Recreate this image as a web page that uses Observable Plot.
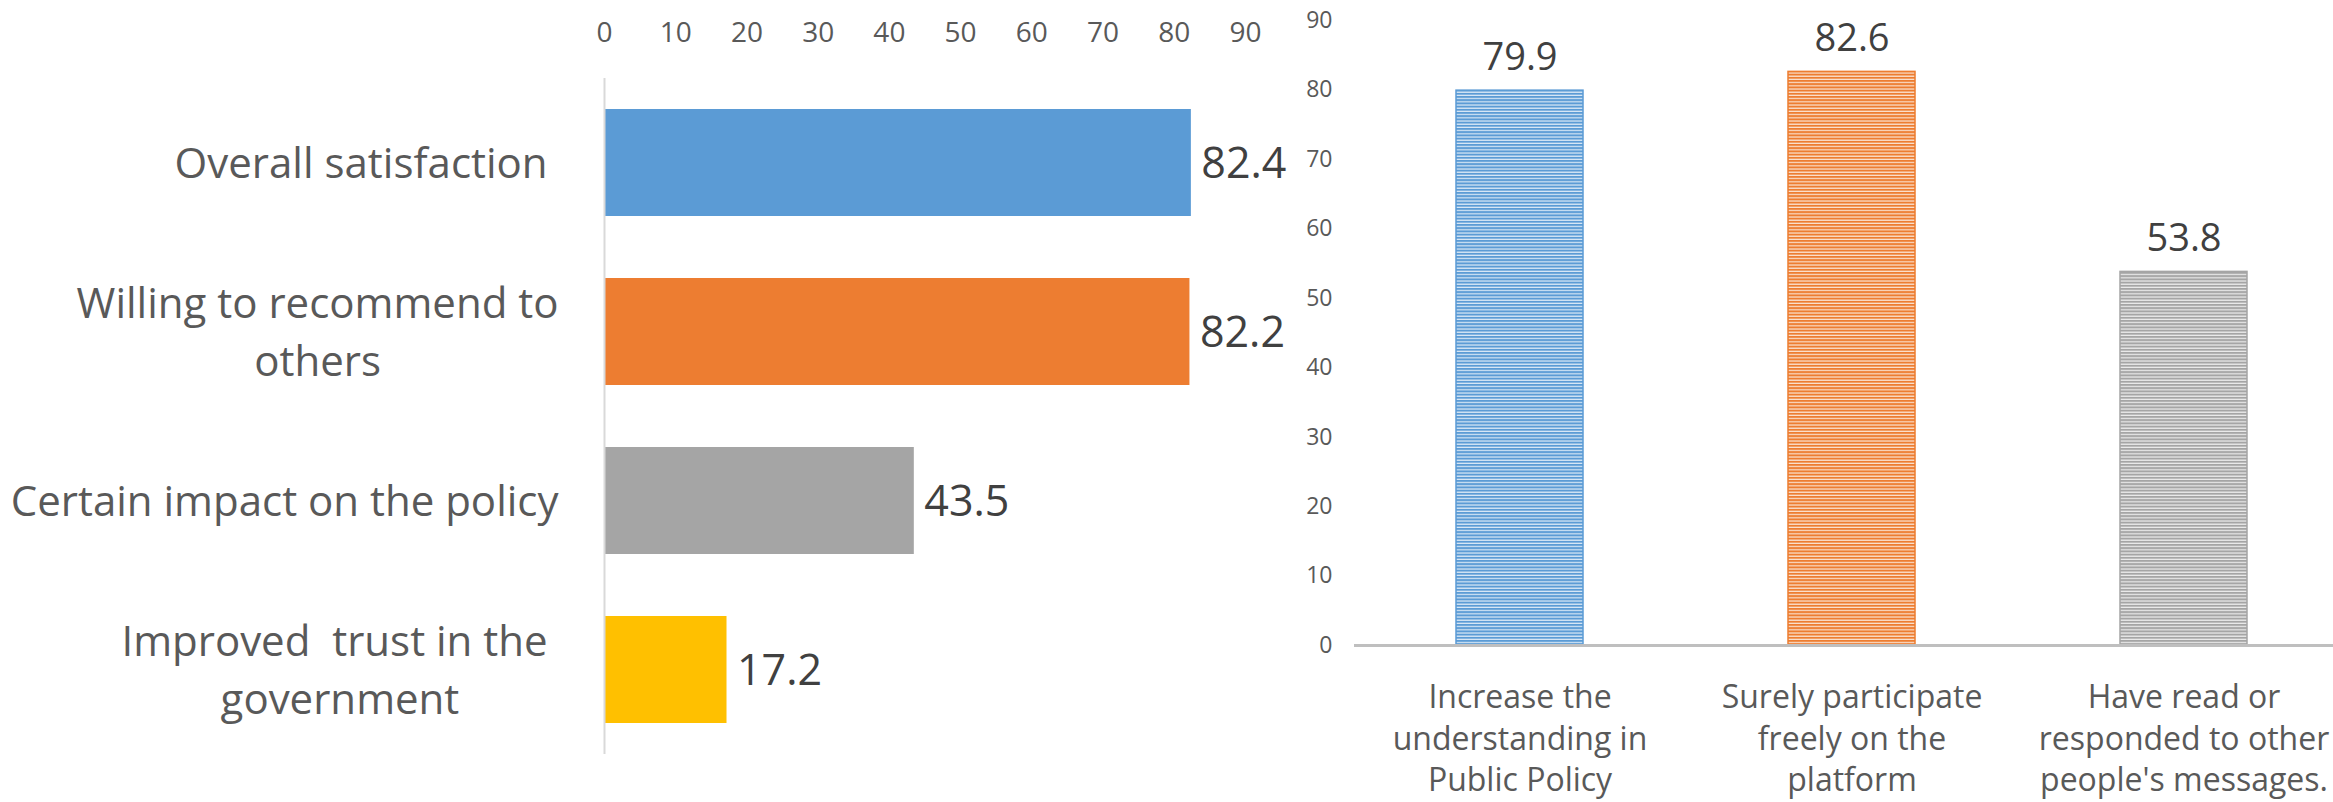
<!DOCTYPE html>
<html><head><meta charset="utf-8">
<script src="https://cdn.jsdelivr.net/npm/d3@7"></script>
<script src="https://cdn.jsdelivr.net/npm/@observablehq/plot@0.6"></script>
<style>
html,body{margin:0;padding:0;background:#fff;overflow:hidden;width:2333px;height:802px;}
#wrap{position:relative;width:2333px;height:802px;overflow:hidden;}
#left{position:absolute;left:0;top:0;width:1300px;height:802px;}
#right{position:absolute;left:1290px;top:0;width:1060px;height:802px;}
#wrap svg{max-width:none !important;}
svg text{white-space:pre;}
</style></head><body><div id="wrap"><div id="left"></div><div id="right"></div></div>
<script>
// ---- data: left chart (horizontal bars) ----
const leftCategories = ["Overall satisfaction ", "Willing to recommend to\nothers", "Certain impact on the policy", "Improved  trust in the \ngovernment"];
const leftValues = [82.4, 82.2, 43.5, 17.2];
const leftColors = ["#5B9BD5", "#ED7D31", "#A5A5A5", "#FFC000"];
const leftTicks = [0, 10, 20, 30, 40, 50, 60, 70, 80, 90];

// ---- data: right chart (vertical bars) ----
const rightCategories = ["Increase the\nunderstanding in\nPublic Policy", "Surely participate\nfreely on the\nplatform", "Have read or\nresponded to other\npeople's messages."];
const rightValues = [79.9, 82.6, 53.8];
const rightColors = ["#5B9BD5", "#ED7D31", "#A5A5A5"];
const rightTicks = [0, 10, 20, 30, 40, 50, 60, 70, 80, 90];

const FONT = "'Open Sans', sans-serif";

const leftData = leftCategories.map((c, i) => ({category: c, value: leftValues[i], color: leftColors[i]}));
const rightData = rightCategories.map((c, i) => ({category: c, value: rightValues[i], color: rightColors[i], i}));

// measure label widths to emulate centered wrapped labels right-aligned to the axis
const ctx = document.createElement("canvas").getContext("2d");
const labelSize = 42;
ctx.font = `${labelSize}px "Open Sans"`;
const labelWidths = leftCategories.map(c => d3.max(c.split("\n"), l => ctx.measureText(l).width));
const labelGap = 46;

const leftLabelMarks = leftCategories.map((c, i) => Plot.text([c], {
  y: d => d, text: d => d, frameAnchor: "left",
  dx: -(labelGap + labelWidths[i] / 2), dy: -4, textAnchor: "middle", lineAnchor: "middle",
  fontSize: labelSize, lineHeight: 1.38, fill: "#595959"
}));

const left = Plot.plot({
  width: 1300, height: 802,
  marginLeft: 604, marginRight: 55, marginTop: 78, marginBottom: 48,
  style: {fontFamily: FONT, background: "transparent", overflow: "visible"},
  x: {domain: [0, 90]},
  y: {domain: leftCategories, paddingInner: 0.369, paddingOuter: 0.1845, axis: null},
  color: {type: "identity"},
  marks: [
    Plot.axisX(leftTicks, {anchor: "top", tickSize: 0, tickPadding: 37, fontSize: 28, color: "#595959", label: null}),
    Plot.barX(leftData, {x: "value", y: "category", fill: "color"}),
    Plot.ruleX([0], {stroke: "#D9D9D9", strokeWidth: 2}),
    Plot.text(leftData, {x: "value", y: "category", text: d => d.value.toFixed(1), dx: 10, dy: 1, textAnchor: "start", fontSize: 43, fill: "#404040"}),
    ...leftLabelMarks
  ]
});
document.getElementById("left").appendChild(left);

const right = Plot.plot({
  width: 1060, height: 802,
  marginLeft: 64, marginRight: 0, marginTop: 20, marginBottom: 157,
  style: {fontFamily: FONT, background: "transparent", overflow: "visible"},
  x: {domain: rightCategories, paddingInner: 0.617, paddingOuter: 0.3085},
  y: {domain: [0, 90]},
  color: {type: "identity"},
  marks: [
    Plot.axisY(rightTicks, {tickSize: 0, tickPadding: 22, fontSize: 23, color: "#595959", label: null}),
    Plot.axisX({tickSize: 0, tickPadding: 33, fontSize: 32, lineHeight: 1.3, color: "#595959", label: null}),
    Plot.barY(rightData, {x: "category", y: "value", fill: d => `url(#hatch${d.i})`, stroke: "color", strokeWidth: 1.5}),
    Plot.ruleY([0], {stroke: "#BFBFBF", strokeWidth: 3}),
    Plot.text(rightData, {x: "category", y: "value", text: d => d.value.toFixed(1), dy: -21, lineAnchor: "bottom", fontSize: 38, fill: "#404040"})
  ]
});
// hatch patterns (narrow horizontal lines)
const ns = "http://www.w3.org/2000/svg";
const defs = document.createElementNS(ns, "defs");
rightColors.forEach((c, i) => {
  const p = document.createElementNS(ns, "pattern");
  p.setAttribute("id", `hatch${i}`);
  p.setAttribute("patternUnits", "userSpaceOnUse");
  p.setAttribute("width", "8");
  p.setAttribute("height", "3.2");
  const bg = document.createElementNS(ns, "rect");
  bg.setAttribute("width", "8"); bg.setAttribute("height", "3.2");
  bg.setAttribute("fill", d3.interpolateRgb(c, "#fff")(0.8));
  const fg = document.createElementNS(ns, "rect");
  fg.setAttribute("width", "8"); fg.setAttribute("height", "2");
  fg.setAttribute("fill", c);
  p.appendChild(bg); p.appendChild(fg);
  defs.appendChild(p);
});
right.insertBefore(defs, right.firstChild);
document.getElementById("right").appendChild(right);
</script></body></html>
